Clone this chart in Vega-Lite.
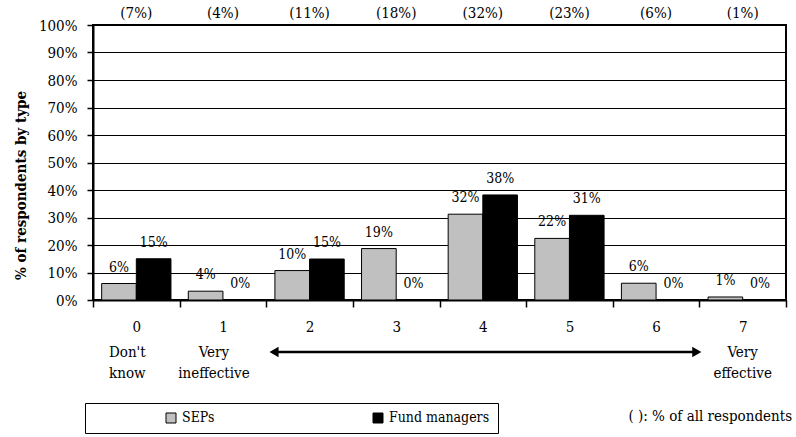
{
  "$schema": "https://vega.github.io/schema/vega-lite/v6.json",
  "width": 693,
  "height": 275,
  "autosize": {"type": "none"},
  "padding": {"left": 93, "top": 25, "right": 10, "bottom": 137},
  "background": "white",
  "config": {
    "font": "DejaVu Serif Condensed",
    "view": {"stroke": "black", "strokeWidth": 2},
    "text": {"font": "DejaVu Serif Condensed", "color": "black"}
  },
  "datasets": {
    "bars": [
      {"score": "0", "group": "SEPs", "value": 6, "label": "6%"},
      {"score": "0", "group": "Fund managers", "value": 15, "label": "15%"},
      {"score": "1", "group": "SEPs", "value": 3.2, "label": "4%"},
      {"score": "1", "group": "Fund managers", "value": 0, "label": "0%"},
      {"score": "2", "group": "SEPs", "value": 10.7, "label": "10%"},
      {"score": "2", "group": "Fund managers", "value": 14.9, "label": "15%"},
      {"score": "3", "group": "SEPs", "value": 18.7, "label": "19%"},
      {"score": "3", "group": "Fund managers", "value": 0, "label": "0%"},
      {"score": "4", "group": "SEPs", "value": 31.2, "label": "32%"},
      {"score": "4", "group": "Fund managers", "value": 38.2, "label": "38%"},
      {"score": "5", "group": "SEPs", "value": 22.4, "label": "22%"},
      {"score": "5", "group": "Fund managers", "value": 30.8, "label": "31%"},
      {"score": "6", "group": "SEPs", "value": 6.1, "label": "6%"},
      {"score": "6", "group": "Fund managers", "value": 0, "label": "0%"},
      {"score": "7", "group": "SEPs", "value": 1.1, "label": "1%"},
      {"score": "7", "group": "Fund managers", "value": 0, "label": "0%"}
    ],
    "shares": [
      {"score": "0", "share": "(7%)"},
      {"score": "1", "share": "(4%)"},
      {"score": "2", "share": "(11%)"},
      {"score": "3", "share": "(18%)"},
      {"score": "4", "share": "(32%)"},
      {"score": "5", "share": "(23%)"},
      {"score": "6", "share": "(6%)"},
      {"score": "7", "share": "(1%)"}
    ],
    "descs": [
      {"score": "0", "desc": "Don't\nknow"},
      {"score": "1", "desc": "Very\nineffective"},
      {"score": "7", "desc": "Very\neffective"}
    ],
    "arrow": [{"from": 2.09, "to": 6.97, "level": -18.9}],
    "note": [{"pos": 8.07, "level": -42.2, "text": "( ): % of all respondents"}]
  },
  "layer": [
    {
      "layer": [
        {
          "data": {"name": "bars"},
          "mark": {"type": "bar", "stroke": "black", "strokeWidth": 1},
          "encoding": {
            "x": {
              "field": "score", "type": "ordinal",
              "scale": {"paddingInner": 0, "paddingOuter": 0},
              "axis": {
                "title": null, "labelAngle": 0, "tickBand": "extent", "tickSize": 7,
                "tickColor": "black", "tickWidth": 1.5, "domainColor": "black", "domainWidth": 2,
                "labelFont": "DejaVu Serif Condensed",
                "labelFontSize": 15, "labelColor": "black",
                "labelPadding": 12, "grid": false
              }
            },
            "xOffset": {
              "field": "group", "type": "nominal", "sort": ["SEPs", "Fund managers"],
              "scale": {"paddingInner": 0, "paddingOuter": 0.25}
            },
            "y": {
              "field": "value", "type": "quantitative",
              "scale": {"domain": [0, 100], "nice": false},
              "axis": {
                "title": "% of respondents by type",
                "values": [0, 10, 20, 30, 40, 50, 60, 70, 80, 90, 100],
                "labelExpr": "datum.value + '%'",
                "grid": true, "gridColor": "black", "gridWidth": 1,
                "tickSize": 6, "tickColor": "black", "tickWidth": 1.5,
                "domainColor": "black", "domainWidth": 2,
                "labelFont": "DejaVu Serif Condensed",
                "labelFontSize": 15, "labelColor": "black",
                "labelPadding": 10,
                "titleFont": "DejaVu Serif Condensed",
                "titleFontSize": 15, "titleFontWeight": "bold",
                "titleColor": "black", "titleX": -68, "titleY": 160, "titleAngle": 270,
                "titleBaseline": "alphabetic", "titleAlign": "center"
              }
            },
            "color": {
              "field": "group", "type": "nominal", "sort": ["SEPs", "Fund managers"],
              "scale": {"domain": ["SEPs", "Fund managers"], "range": ["#c0c0c0", "#000000"]},
              "legend": {
                "title": null, "orient": "none", "legendX": -8, "legendY": 378,
                "direction": "horizontal", "columns": 2, "gridAlign": "all",
                "strokeColor": "black", "padding": 8,
                "symbolType": "square", "symbolSize": 100, "symbolStrokeColor": "black",
                "symbolStrokeWidth": 1, "symbolOffset": 71, "columnPadding": 17,
                "labelFont": "DejaVu Serif Condensed",
                "labelFontSize": 14, "labelColor": "black",
                "labelOffset": 4
              }
            }
          }
        },
        {
          "data": {"name": "bars"},
          "mark": {"type": "text", "baseline": "alphabetic", "dy": -12, "fontSize": 14},
          "encoding": {
            "x": {"field": "score", "type": "ordinal"},
            "xOffset": {"field": "group", "type": "nominal", "sort": ["SEPs", "Fund managers"]},
            "y": {"field": "value", "type": "quantitative", "scale": {"domain": [0, 100], "nice": false}, "axis": null},
            "text": {"field": "label"}
          }
        },
        {
          "data": {"name": "shares"},
          "mark": {"type": "text", "baseline": "middle", "dy": -12, "fontSize": 15},
          "encoding": {
            "x": {"field": "score", "type": "ordinal"},
            "y": {"datum": 100, "scale": {"domain": [0, 100], "nice": false}, "axis": null},
            "text": {"field": "share"}
          }
        },
        {
          "data": {"name": "descs"},
          "transform": [{"filter": "datum.score != '7'"}],
          "mark": {"type": "text", "baseline": "top", "dy": 45, "dx": -9, "fontSize": 15, "lineBreak": "\n", "lineHeight": 20.5},
          "encoding": {
            "x": {"field": "score", "type": "ordinal"},
            "y": {"datum": 0, "scale": {"domain": [0, 100], "nice": false}, "axis": null},
            "text": {"field": "desc"}
          }
        },
        {
          "data": {"name": "descs"},
          "transform": [{"filter": "datum.score == '7'"}],
          "mark": {"type": "text", "baseline": "top", "dy": 45, "fontSize": 15, "lineBreak": "\n", "lineHeight": 20.5},
          "encoding": {
            "x": {"field": "score", "type": "ordinal"},
            "y": {"datum": 0, "scale": {"domain": [0, 100], "nice": false}, "axis": null},
            "text": {"field": "desc"}
          }
        }
      ],
      "resolve": {"axis": {"y": "independent"}}
    },
    {
      "layer": [
        {
          "data": {"name": "arrow"},
          "mark": {"type": "rule", "color": "black", "strokeWidth": 2.5},
          "encoding": {
            "x": {"field": "from", "type": "quantitative", "scale": {"domain": [0, 8], "nice": false, "zero": false}, "axis": null},
            "x2": {"field": "to"},
            "y": {"field": "level", "type": "quantitative", "scale": {"domain": [0, 100], "nice": false}, "axis": null}
          }
        },
        {
          "data": {"name": "arrow"},
          "mark": {"type": "point", "shape": "triangle-left", "filled": true, "color": "black", "size": 110, "opacity": 1},
          "encoding": {
            "x": {"field": "from", "type": "quantitative"},
            "y": {"field": "level", "type": "quantitative", "scale": {"domain": [0, 100], "nice": false}, "axis": null}
          }
        },
        {
          "data": {"name": "arrow"},
          "mark": {"type": "point", "shape": "triangle-right", "filled": true, "color": "black", "size": 110, "opacity": 1},
          "encoding": {
            "x": {"field": "to", "type": "quantitative"},
            "y": {"field": "level", "type": "quantitative", "scale": {"domain": [0, 100], "nice": false}, "axis": null}
          }
        },
        {
          "data": {"name": "note"},
          "mark": {"type": "text", "align": "right", "baseline": "middle", "fontSize": 15},
          "encoding": {
            "x": {"field": "pos", "type": "quantitative"},
            "y": {"field": "level", "type": "quantitative", "scale": {"domain": [0, 100], "nice": false}, "axis": null},
            "text": {"field": "text"}
          }
        }
      ],
      "resolve": {"axis": {"y": "independent"}}
    }
  ],
  "resolve": {"scale": {"x": "independent"}, "axis": {"x": "independent", "y": "independent"}}
}
